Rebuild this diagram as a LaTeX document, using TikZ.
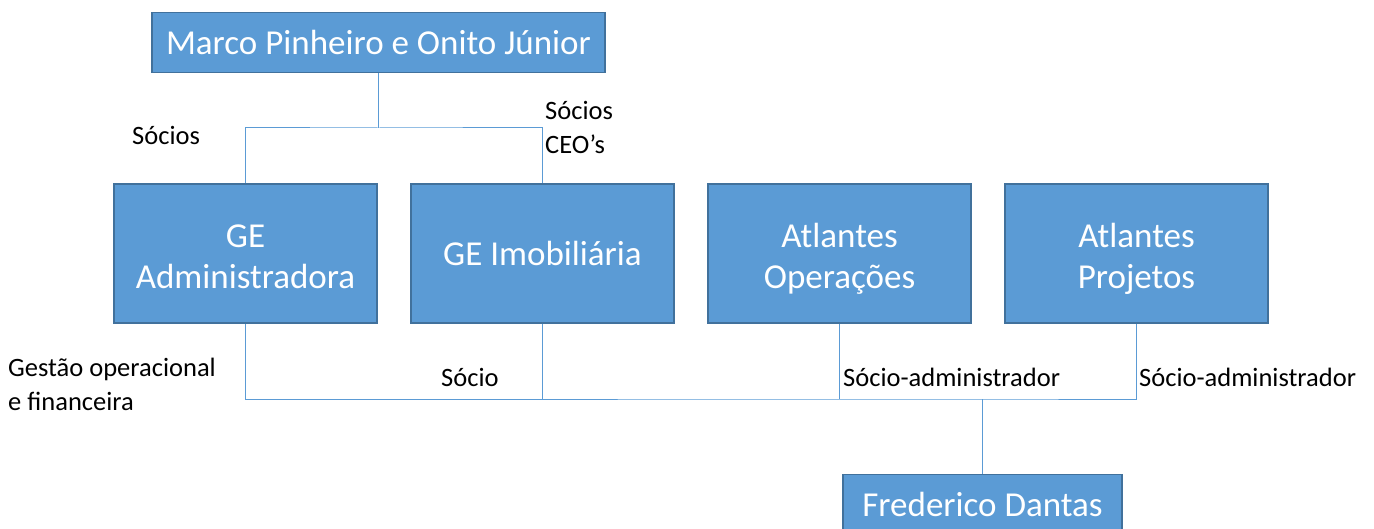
\documentclass[tikz,border=0pt]{standalone}
\usepackage{fontspec}
\setmainfont{Carlito}
\definecolor{boxfill}{HTML}{5B9BD5}
\definecolor{boxline}{HTML}{41719C}
\definecolor{conn}{HTML}{5B9BD5}
\begin{document}
\begin{tikzpicture}[x=1pt,y=-1pt,
  orgbox/.style={draw=boxline,line width=1.3pt,fill=boxfill,text=white,align=center,
    inner sep=0pt,font=\fontsize{35}{41}\selectfont},
  twoline/.style={text height=70pt,text depth=0pt},
  relabel/.style={inner sep=0pt,align=left,text=black,font=\fontsize{26.5}{34}\selectfont},
  link/.style={draw=conn,line width=1pt}]
\useasboundingbox (0,0) rectangle (1374,529);
\clip (0,0) rectangle (1374,529);
\node[orgbox,minimum width=453pt,minimum height=60pt] (top) at (378.5,42.5) {Marco Pinheiro e Onito Júnior};
\node[orgbox,twoline,minimum width=263pt,minimum height=139pt] (gea) at (245.5,253.5) {GE\\Administradora};
\node[orgbox,minimum width=263pt,minimum height=139pt] (gei) at (542.5,253.5) {GE Imobiliária};
\node[orgbox,twoline,minimum width=263pt,minimum height=139pt] (ao) at (839.5,253.5) {Atlantes\\Operações};
\node[orgbox,twoline,minimum width=263pt,minimum height=139pt] (ap) at (1136.5,253.5) {Atlantes\\Projetos};
\node[orgbox,minimum width=279pt,minimum height=60pt] (fd) at (982.5,504.5) {Frederico Dantas};
\coordinate (j1) at (378.5,128);
\coordinate (j2) at (982.5,399);
\draw[link] (top.south) -- (j1);
\draw[link] (gea.north) |- (j1) -| (gei.north);
\draw[link] (gea.south) |- (j2) -| (ap.south);
\draw[link] (gei.south) -- (gei.south |- j2);
\draw[link] (ao.south) -- (ao.south |- j2);
\draw[link] (j2) -- (fd.north);
\node[relabel,anchor=base west] (l1) at (132,145) {Sócios};
\node[relabel,anchor=west] (l2) at (545,127) {Sócios\\CEO’s};
\node[relabel,anchor=west] (l3) at (8,384) {Gestão operacional\\e financeira};
\node[relabel,anchor=base west] (l4) at (441,387) {Sócio};
\node[relabel,anchor=base west] (l5) at (843,387) {Sócio-administrador};
\node[relabel,anchor=base west] (l6) at (1139,387) {Sócio-administrador};
\end{tikzpicture}
\end{document}
